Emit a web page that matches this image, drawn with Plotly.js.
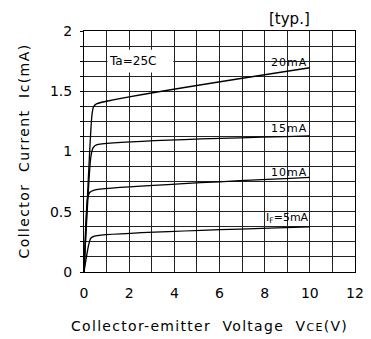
<!DOCTYPE html>
<html>
<head>
<meta charset="utf-8">
<script src="https://cdn.plot.ly/plotly-3.0.1.min.js"></script>
<style>html,body{margin:0;padding:0;background:#fff;}#chart{width:371px;height:339px;}</style>
</head>
<body>
<div id="chart"></div>
<script>
// Collector current vs collector-emitter voltage, per forward current
const seriesNames = ["20mA", "15mA", "10mA", "5mA"];
const vce20 = [0, 0.35, 0.42, 0.55, 10];
const ic20  = [0, 1.30, 1.37, 1.395, 1.695];
const vce15 = [0, 0.30, 0.40, 0.55, 10];
const ic15  = [0, 0.95, 1.03, 1.055, 1.13];
const vce10 = [0, 0.15, 0.25, 0.45, 10];
const ic10  = [0, 0.60, 0.66, 0.68, 0.785];
const vce5  = [0, 0.20, 0.30, 0.50, 10];
const ic5   = [0, 0.22, 0.28, 0.30, 0.375];

const labelText = ["20mA", "15mA", "10mA", "I<sub>F</sub>=5mA"];
const labelX = [9.07, 9.07, 9.07, 9.03];
const labelY = [1.74, 1.19, 0.825, 0.445];
const labelSpacing = [1, 1, 1, 0];

const xTickVals = [0,1,2,3,4,5,6,7,8,9,10,11,12];
const xTickText = ["0","","2","","4","","6","","8","","10","","12"];
const yTickVals = [0,0.125,0.25,0.375,0.5,0.625,0.75,0.875,1,1.125,1.25,1.375,1.5,1.625,1.75,1.875,2];
const yTickText = ["0","","","","0.5","","","","1","","","","1.5","","","","2"];

const FONT = "DejaVu Sans, sans-serif";
const lineStyle = {color: "#000", width: 1.3};
const xs = [vce20, vce15, vce10, vce5];
const ys = [ic20, ic15, ic10, ic5];
const traces = xs.map((x, i) => ({
  x: x, y: ys[i], name: seriesNames[i], type: "scatter", mode: "lines",
  line: Object.assign({shape: "spline", smoothing: 0.6}, lineStyle), showlegend: false, hoverinfo: "skip"
}));

function spaced(t, px) { return px ? '<span style="letter-spacing:' + px + 'px">' + t + '</span>' : t; }

const annotations = labelText.map((t, i) => ({
  x: labelX[i], y: labelY[i], xref: "x", yref: "y", text: spaced(t, labelSpacing[i]), showarrow: false,
  font: {family: FONT, size: 11, color: "#000"}, xanchor: "center", yanchor: "middle"
}));
annotations.push({x: 1.0, y: 1.75, xref: "x", yref: "y", text: "Ta=25C", showarrow: false,
  font: {family: FONT, size: 12, color: "#000"}, xanchor: "left", yanchor: "middle"});
annotations.push({x: (289 - 84) / (355 - 84), y: 1 + (31 - 19) / (271.7 - 31), xref: "paper", yref: "paper",
  text: "[typ.]", showarrow: false,
  font: {family: FONT, size: 15, color: "#000"}, xanchor: "center", yanchor: "middle"});
annotations.push({x: (209.5 - 84) / (355 - 84), y: -(326 - 271.7) / (271.7 - 31), xref: "paper", yref: "paper",
  text: spaced("Collector-emitter  Voltage  V<span style=\"font-size:11px\">CE</span>(V)", 1.3), showarrow: false,
  font: {family: FONT, size: 14, color: "#000"}, xanchor: "center", yanchor: "middle"});
annotations.push({x: -(84 - 23) / (355 - 84), y: 0.5, xref: "paper", yref: "paper", textangle: -90,
  text: spaced("Collector  Current  Ic(mA)", 1.4), showarrow: false,
  font: {family: FONT, size: 14, color: "#000"}, xanchor: "center", yanchor: "middle"});

const layout = {
  width: 371, height: 339,
  margin: {l: 84, r: 16, t: 31, b: 67.3},
  paper_bgcolor: "#fff", plot_bgcolor: "#fff",
  font: {family: FONT, size: 14, color: "#000"},
  xaxis: {range: [0, 12], tickvals: xTickVals, ticktext: xTickText, showgrid: true, gridcolor: "#222", gridwidth: 1,
    zeroline: false, showline: true, linecolor: "#000", linewidth: 1, mirror: true, ticks: "", ticklabelstandoff: 8,
    tickfont: {family: FONT, size: 14, color: "#000"}, fixedrange: true},
  yaxis: {range: [0, 2], tickvals: yTickVals, ticktext: yTickText, showgrid: true, gridcolor: "#222", gridwidth: 1,
    zeroline: false, showline: true, linecolor: "#000", linewidth: 1, mirror: true, ticks: "outside", ticklen: 3,
    tickcolor: "#000", ticklabelstandoff: 5, tickfont: {family: FONT, size: 14, color: "#000"}, fixedrange: true},
  shapes: [{type: "rect", xref: "x", yref: "y", x0: 1.04, x1: 3.96, y0: 1.655, y1: 1.845,
    fillcolor: "#fff", line: {width: 0}, layer: "above"}],
  annotations: annotations
};
Plotly.newPlot("chart", traces, layout, {displayModeBar: false, staticPlot: true});
</script>
</body>
</html>
